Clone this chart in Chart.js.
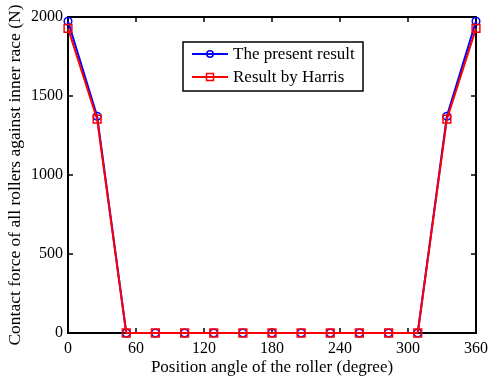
<!DOCTYPE html>
<html>
<head>
<meta charset="utf-8">
<script src="https://cdn.jsdelivr.net/npm/chart.js@4/dist/chart.umd.min.js"></script>
<style>
html,body{margin:0;padding:0;background:#fff;}
#wrap{width:488px;height:379px;position:relative;}
</style>
</head>
<body>
<div id="wrap"><canvas id="c" width="488" height="379"></canvas></div>
<script>
// Roller position angles (degree)
const angles = [0, 25.7, 51.4, 77.1, 102.9, 128.6, 154.3, 180, 205.7, 231.4, 257.1, 282.9, 308.6, 334.3, 360];
// Contact force (N)
const presentResult = [1973, 1372, 0, 0, 0, 0, 0, 0, 0, 0, 0, 0, 0, 1372, 1973];
const harrisResult  = [1928, 1353, 0, 0, 0, 0, 0, 0, 0, 0, 0, 0, 0, 1353, 1928];
const seriesLabels = ['The present result', 'Result by Harris'];
const xTicks = [0, 60, 120, 180, 240, 300, 360];
const yTicks = [0, 500, 1000, 1500, 2000];
const xTitle = 'Position angle of the roller (degree)';
const yTitle = 'Contact force of all rollers against inner race (N)';

const FONT = "'Liberation Serif', 'Times New Roman', serif";

const framePlugin = {
  id: 'frame',
  beforeDatasetsDraw(chart) {
    const {ctx, chartArea: a, scales} = chart;
    ctx.save();
    ctx.strokeStyle = '#000';
    ctx.lineWidth = 2;
    ctx.strokeRect(a.left, a.top, a.right - a.left, a.bottom - a.top);
    ctx.lineWidth = 1.5;
    const L = 5;
    ctx.beginPath();
    xTicks.forEach(v => {
      const x = scales.x.getPixelForValue(v);
      if (v === xTicks[0] || v === xTicks[xTicks.length - 1]) return;
      ctx.moveTo(x, a.bottom); ctx.lineTo(x, a.bottom - L);
      ctx.moveTo(x, a.top); ctx.lineTo(x, a.top + L);
    });
    yTicks.forEach(v => {
      const y = scales.y.getPixelForValue(v);
      if (v === yTicks[0] || v === yTicks[yTicks.length - 1]) return;
      ctx.moveTo(a.left, y); ctx.lineTo(a.left + L, y);
      ctx.moveTo(a.right, y); ctx.lineTo(a.right - L, y);
    });
    ctx.stroke();
    ctx.restore();
  },
  afterDraw(chart) {
    const {ctx} = chart;
    const bx = 183, by = 42, bw = 180, bh = 49;
    ctx.save();
    ctx.fillStyle = '#fff';
    ctx.fillRect(bx, by, bw, bh);
    ctx.strokeStyle = '#000';
    ctx.lineWidth = 1.5;
    ctx.strokeRect(bx, by, bw, bh);
    const rows = [54, 77];
    chart.data.datasets.forEach((ds, i) => {
      const y = rows[i];
      ctx.strokeStyle = ds.borderColor;
      ctx.lineWidth = 2;
      ctx.beginPath();
      ctx.moveTo(192, y); ctx.lineTo(228, y);
      ctx.stroke();
      ctx.lineWidth = 1.5;
      ctx.beginPath();
      if (ds.pointStyle === 'rect') {
        ctx.rect(210 - 3.5, y - 3.5, 7, 7);
      } else {
        ctx.arc(210, y, 3.2, 0, Math.PI * 2);
      }
      ctx.stroke();
      ctx.fillStyle = '#000';
      ctx.font = '17px ' + FONT;
      ctx.textBaseline = 'middle';
      ctx.textAlign = 'left';
      ctx.fillText(ds.label, 233, y + 1);
    });
    ctx.restore();
  }
};

new Chart(document.getElementById('c'), {
  type: 'line',
  data: {
    datasets: [
      {
        label: seriesLabels[0],
        data: angles.map((a, i) => ({x: a, y: presentResult[i]})),
        borderColor: '#0000ff',
        backgroundColor: 'rgba(0,0,0,0)',
        borderWidth: 2,
        pointStyle: 'circle',
        pointRadius: 3.8,
        pointBorderWidth: 1.5,
        pointBorderColor: '#0000ff',
        pointBackgroundColor: 'rgba(0,0,0,0)',
        tension: 0,
        clip: false,
        order: 1
      },
      {
        label: seriesLabels[1],
        data: angles.map((a, i) => ({x: a, y: harrisResult[i]})),
        borderColor: '#ff0000',
        backgroundColor: 'rgba(0,0,0,0)',
        borderWidth: 2,
        pointStyle: 'rect',
        pointRadius: 5.5,
        pointBorderWidth: 1.5,
        pointBorderColor: '#ff0000',
        pointBackgroundColor: 'rgba(0,0,0,0)',
        tension: 0,
        clip: false,
        order: 0
      }
    ]
  },
  options: {
    responsive: false,
    animation: false,
    devicePixelRatio: 1,
    layout: {padding: {top: 17, right: 12, left: 0, bottom: 0}},
    plugins: {legend: {display: false}, tooltip: {enabled: false}},
    scales: {
      x: {
        type: 'linear',
        min: 0, max: 360,
        afterBuildTicks: s => { s.ticks = xTicks.map(v => ({value: v})); },
        afterFit: s => { s.height = 46; s.paddingLeft = 0; s.paddingRight = 0; },
        ticks: {color: '#000', font: {family: FONT, size: 16}, padding: 6, maxRotation: 0, callback: v => String(v)},
        grid: {display: false, drawTicks: false},
        border: {display: false},
        title: {display: true, text: xTitle, color: '#000', font: {family: FONT, size: 17}, padding: {top: 0, bottom: 1}}
      },
      y: {
        type: 'linear',
        min: 0, max: 2000,
        afterBuildTicks: s => { s.ticks = yTicks.map(v => ({value: v})); },
        afterFit: s => { s.width = 68; s.paddingTop = 0; s.paddingBottom = 0; },
        ticks: {color: '#000', font: {family: FONT, size: 16}, padding: 5, callback: v => String(v)},
        grid: {display: false, drawTicks: false},
        border: {display: false},
        title: {display: true, text: yTitle, color: '#000', font: {family: FONT, size: 17.5}, padding: {top: 5, bottom: 0}}
      }
    }
  },
  plugins: [framePlugin]
});
</script>
</body>
</html>
